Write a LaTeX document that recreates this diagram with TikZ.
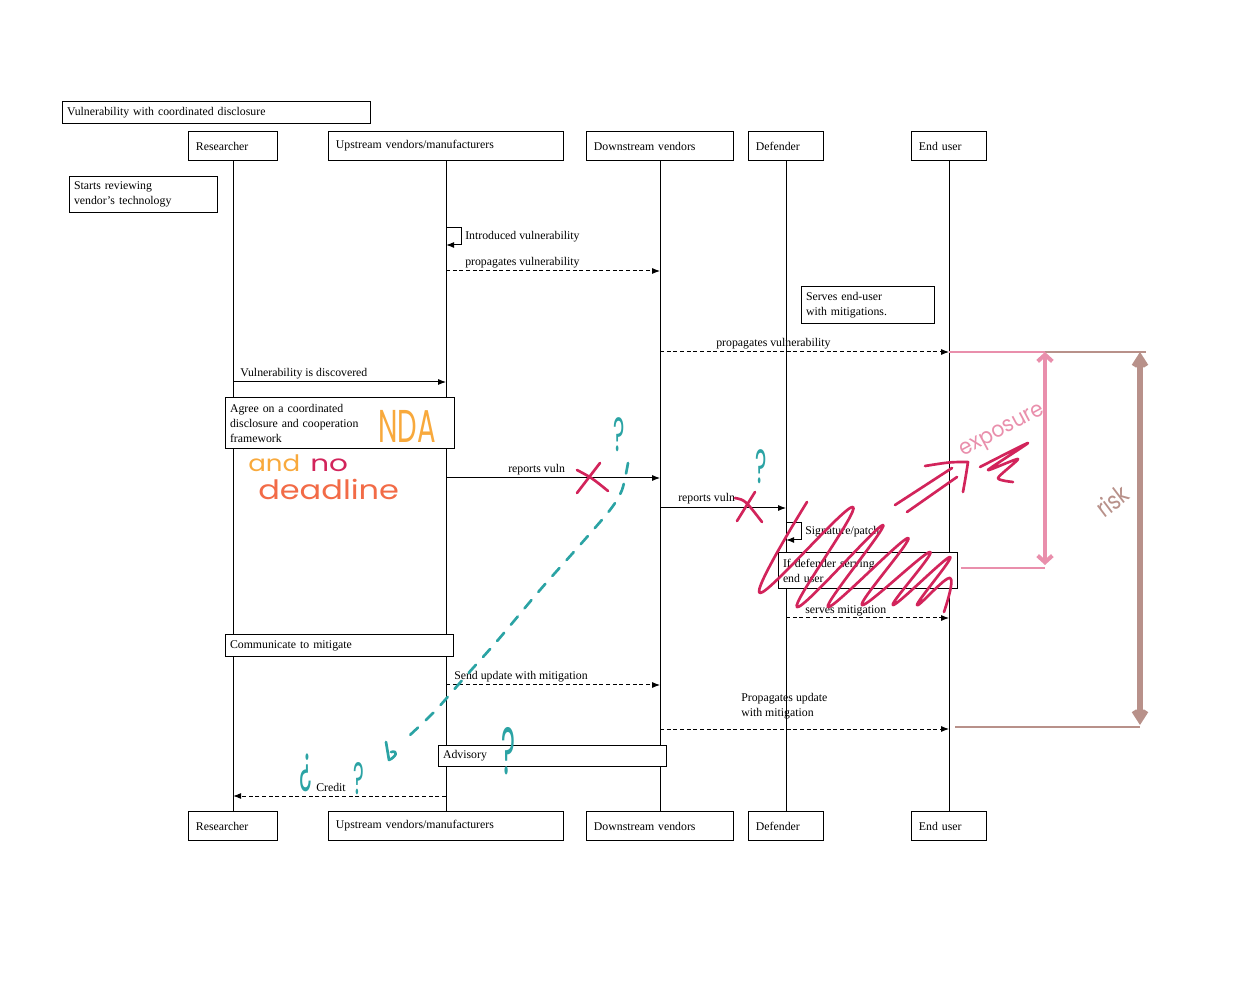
\documentclass[tikz,border=0pt]{standalone}
\usepackage{fontspec}
\usepackage{graphicx}
\setmainfont{Liberation Serif}
\newfontfamily\handfont{Poppins}
\usepackage{tikz}
\usetikzlibrary{arrows.meta, calc}
\definecolor{expo}{HTML}{E98FAC}
\definecolor{riskc}{HTML}{B8918A}
\definecolor{scrib}{HTML}{D2245B}
\definecolor{tealq}{HTML}{2BA3A4}
\definecolor{ndaor}{HTML}{F8A93C}
\definecolor{deadr}{HTML}{F26B47}

\begin{document}
\begin{tikzpicture}[x=0.75pt, y=-0.75pt,
  font=\fontsize{8.85}{11.2}\selectfont,
  actor/.style={draw, line width=0.9pt, fill=white, anchor=north west,
                align=left, inner xsep=5.5pt, inner ysep=0pt,
                minimum height=21.75pt, text width=#1},
  note/.style 2 args={draw, line width=0.9pt, fill=white, anchor=north west,
                align=left, inner xsep=3.3pt, inner ysep=0pt,
                text width=#1, minimum height=#2},
  life/.style={line width=0.8pt},
  msg/.style={line width=0.75pt, -{Latex[length=6pt,width=4.5pt]}},
  reply/.style={msg, dash pattern=on 3pt off 2pt},
  lbl/.style={anchor=base west, inner sep=0pt},
  ink/.style={line width=2pt, line cap=round, line join=round},
  hand/.style={font=\handfont\fontsize{#1}{#1}\selectfont, inner sep=0pt}]
  \useasboundingbox (0,0) rectangle (1258,1005);

  \foreach \n/\x/\w/\t in {res/188/55.75pt/Researcher,
      up/328/165.25pt/Upstream vendors\slash manufacturers,
      down/586/99.25pt/Downstream vendors,
      def/748/45.25pt/Defender, user/911/45.25pt/End user} {
    \node[actor=\w] (h\n) at (\x,131) {\t};
    \node[actor=\w] (f\n) at (\x,811) {\t};
    \draw[life] (h\n) -- (f\n);
  }
  \foreach \a in {res,up,down,def,user}
    \foreach \k/\y in {1/228, 2/245, 3/271, 4/352, 5/382, 6/478, 7/508,
                       8/523, 9/540, 10/618, 11/685, 12/729, 13/796}
      \coordinate (\a\k) at (h\a.south |- 0,\y);

  \draw[msg] (up1) -- ++(15,0) |- (up2);
  \node[lbl] (lintro) at (465,240) {Introduced vulnerability};
  \draw[reply] (up3) -- (down3);
  \node[lbl] (lprop) at (465,266) {propagates vulnerability};
  \draw[reply] (down4) -- (user4);
  \node[lbl] (lprop2) at (716,347) {propagates vulnerability};
  \draw[msg] (res5) -- (up5);
  \node[lbl] (ldisc) at (240,377) {Vulnerability is discovered};
  \draw[msg] (up6) -- (down6);
  \node[lbl] (lrep) at (508,473) {reports vuln};
  \draw[msg] (down7) -- (def7);
  \node[lbl] (lrep2) at (678,502) {reports vuln};
  \draw[msg] (def8) -- ++(15,0) |- (def9);
  \node[lbl] (lsig) at (805,535) {Signature/patch};
  \draw[reply] (def10) -- (user10);
  \node[lbl] (lserv) at (805,614) {serves mitigation};
  \draw[reply] (up11) -- (down11);
  \node[lbl] (lsend) at (454,680) {Send update with mitigation};
  \draw[reply] (down12) -- (user12);
  \node[anchor=west, align=left, inner sep=0pt] (lpropu) at (741,706)
    {Propagates update\\with mitigation};
  \draw[reply] (up13) -- (res13);
  \node[lbl] (lcred) at (316,791) {Credit};

  \node[note={224.4pt}{16.5pt}] (title) at (62,101) {Vulnerability with coordinated disclosure};
  \node[note={104.4pt}{27pt}] (review) at (69,176) {Starts reviewing\\vendor's technology};
  \node[note={93.15pt}{27.75pt}] (serves) at (801,286) {Serves end-user\\with mitigations.};
  \node[note={165.15pt}{38.25pt}] (agree) at (225,397) {Agree on a coordinated\\disclosure and cooperation\\framework};
  \node[note={127.65pt}{27pt}] (ifdef) at (778,552) {If defender serving\\end user};
  \node[note={164.4pt}{16.5pt}] (comm) at (225,634) {Communicate to mitigate};
  \node[note={164.4pt}{15.75pt}] (advis) at (438,745) {Advisory};

  % exposure and risk
  \coordinate (exptop) at (1045,352);
  \coordinate (expbot) at (1045,565);
  \coordinate (explow) at (1045,568);
  \coordinate (riskend) at (1146,352);
  \coordinate (risktop) at (1140,352);
  \coordinate (riskbot) at (1140,725);
  \coordinate (risklow) at (1140,727);
  \draw[expo, line width=1.5pt] (user4) -- (exptop);
  \draw[riskc, line width=1.5pt] (exptop) -- (riskend);
  \draw[expo, line width=1.5pt] ([xshift=2pt]ifdef.east |- explow) -- (explow);
  \draw[riskc, line width=1.5pt] (user12 |- risklow) ++(6,0) -- (risklow);
  \draw[expo, line width=3pt, {Straight Barb[length=5pt,width=11pt]}-{Straight Barb[length=5pt,width=11pt]}]
    (exptop) -- (expbot);
  \draw[riskc, line width=4pt, {Straight Barb[length=7pt,width=9pt]}-{Straight Barb[length=7pt,width=9pt]}]
    (risktop) -- (riskbot);
  \node[hand=16.5, text=expo, rotate=28] (expw) at (1003,432) {\scalebox{0.92}[1]{exposure}};
  \node[hand=19, text=riskc, rotate=37] (riskw) at (1112,501) {\scalebox{0.82}[1]{risk}};

  % handwriting
  \node[hand=34.5, text=ndaor] (nda) at (407,426) {\scalebox{0.6}[1]{NDA}};
  \node[hand=17, text=ndaor, anchor=base west] (andw) at (248,472) {\scalebox{1.15}[1]{and}};
  \node[hand=17, text=scrib, anchor=base west] (now) at (310,472) {\scalebox{1.3}[1]{no}};
  \node[hand=20, text=deadr, anchor=base west] (deadw) at (258,500) {\scalebox{1.2}[1]{deadline}};

  \draw[ink, scrib] (577,470) .. controls (592,478) .. (608,491);
  \draw[ink, scrib] (600,463) -- (577,493);
  \draw[ink, scrib] (735,498) .. controls (745,500) .. (762,522);
  \draw[ink, scrib] (755,492) -- (737,521);
  \draw[ink, scrib] plot[smooth, tension=0.7] coordinates {(807,502) (760,593) (853,507)
    (797,607) (883,525) (828,607) (908,538) (862,605) (930,552) (893,605) (950,557)
    (917,605) (950,578) (944,612)};
  \draw[ink, scrib] (895,505) -- (952,468);
  \draw[ink, scrib] (907,512) -- (957,477);
  \draw[ink, scrib] (925,466) .. controls (950,462) .. (968,462) .. controls (966,475) .. (963,492);
  \draw[ink, scrib] plot[smooth, tension=0.4] coordinates {(980,467) (1028,443) (988,470)
    (1018,459) (998,478) (1013,482)};

  \draw[tealq, line width=2pt, line cap=round, dash pattern=on 8pt off 8pt]
    plot[smooth, tension=0.5] coordinates {(628,463) (622,490) (610,510) (580,545) (540,590)
    (498,640) (465,677) (436,710) (410,735)};
  \draw[ink, tealq] (386,742) -- (389,760) .. controls (396,757) and (399,750) .. (391,752);
  \node[hand=36, text=tealq] (q1) at (619,435) {\scalebox{0.45}[1]{?}};
  \node[hand=36, text=tealq] (q2) at (761,467) {\scalebox{0.45}[1]{?}};
  \node[hand=40, text=tealq] (q3) at (306,773) {\scalebox{0.45}[1]{¿}};
  \node[hand=34, text=tealq] (q4) at (359,779) {\scalebox{0.45}[1]{?}};
  \node[hand=50, text=tealq] (q5) at (508,751) {\scalebox{0.4}[1]{?}};
\end{tikzpicture}
\end{document}
